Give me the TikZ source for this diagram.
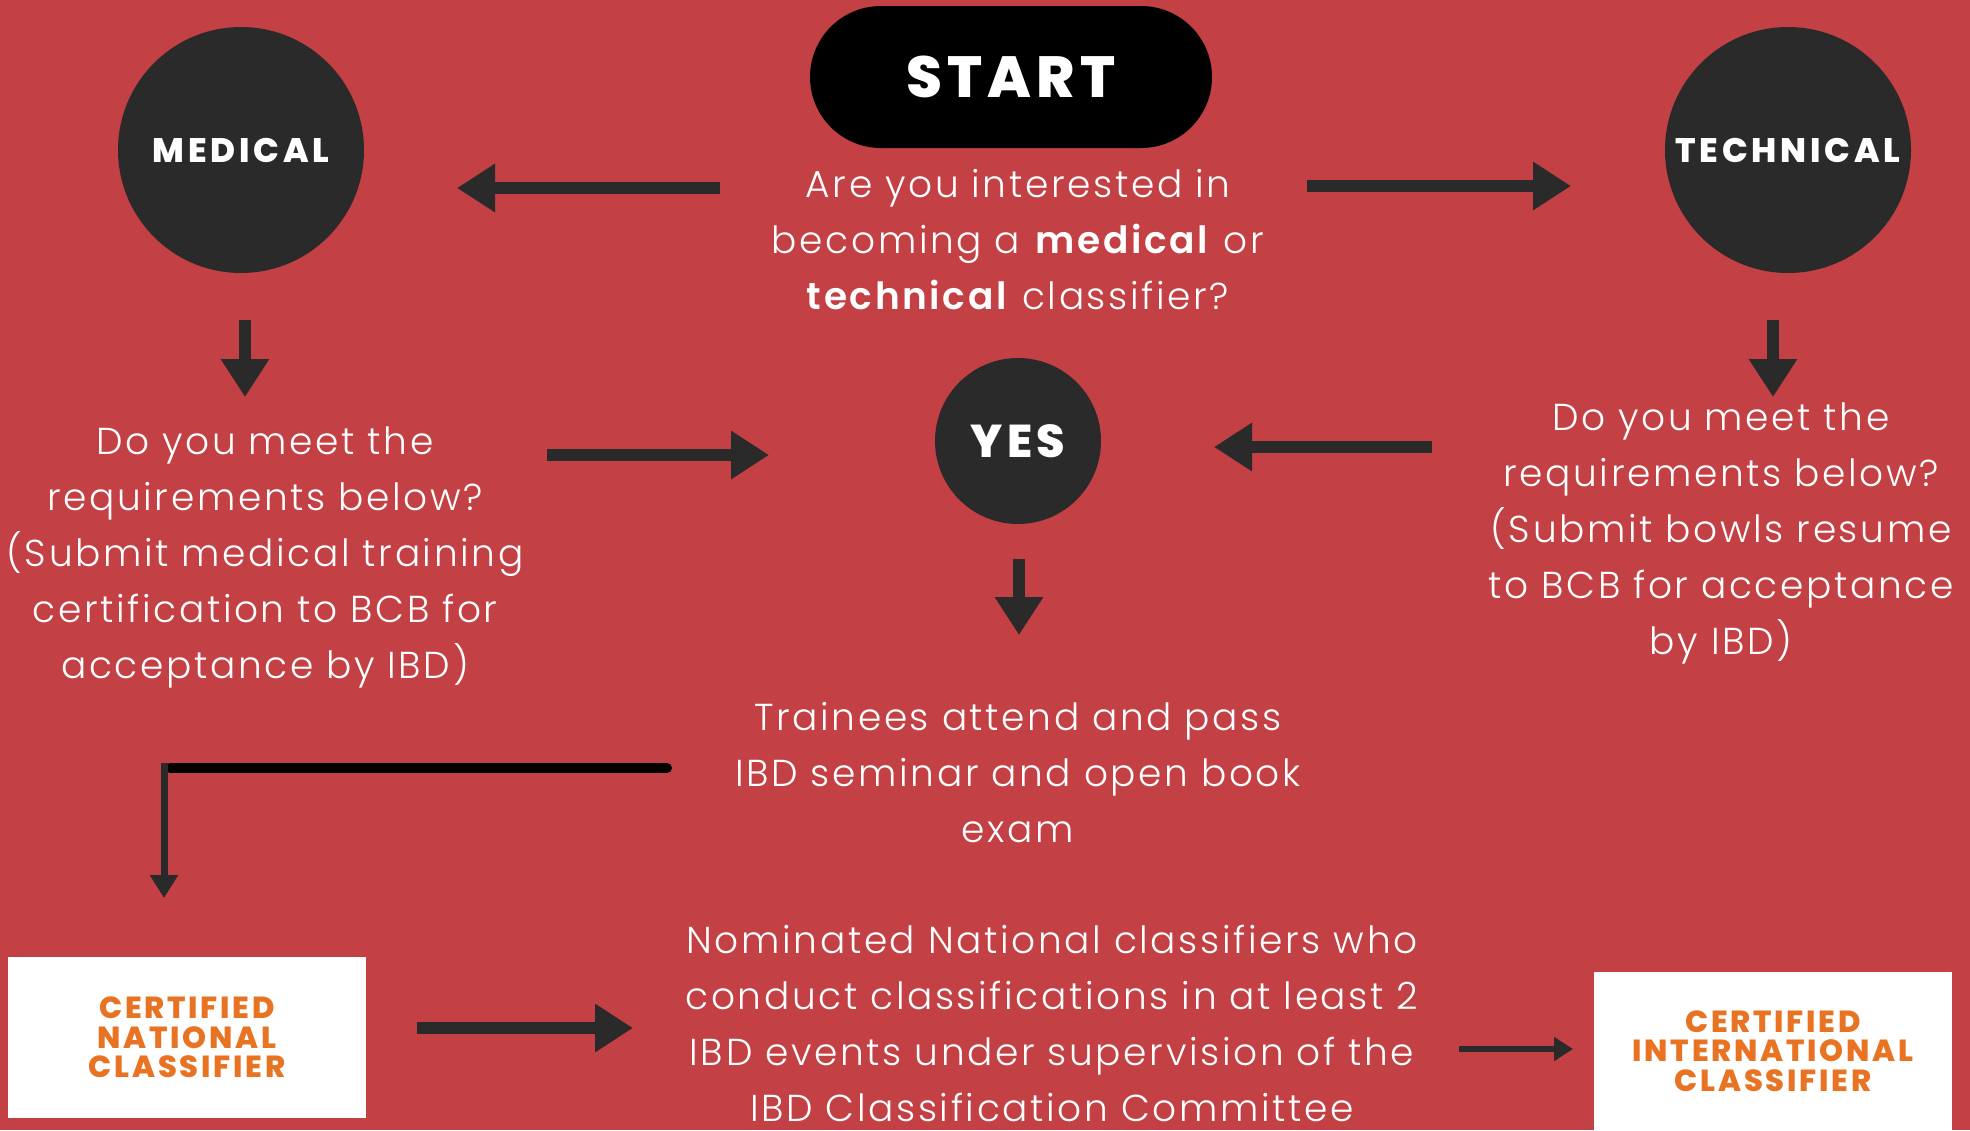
\documentclass[tikz,border=0pt]{standalone}
\usepackage{fontspec}
\setmainfont{Poppins Light}[BoldFont={Poppins SemiBold}, LetterSpace=7]
\newfontfamily\heavyfont{Poppins ExtraBold}
\usetikzlibrary{arrows.meta}
\definecolor{bgred}{HTML}{C34044}
\definecolor{dark}{HTML}{2A2A2A}
\definecolor{certorange}{HTML}{E87423}
\tikzset{
  every node/.style={inner sep=0pt, outer sep=0pt},
  body/.style={text=white, align=center, font=\fontsize{37.5}{56}\selectfont},
  circ/.style={circle, fill=dark, text=white},
  bigarrow/.style={draw=dark, line width=12pt, -{Triangle[width=46pt,length=38pt]}},
  smallarrow/.style={draw=dark, line width=6pt, -{Triangle[width=23pt,length=19pt]}},
  certbox/.style={fill=white, text=certorange, align=center,
    font=\heavyfont\addfontfeature{LetterSpace=9}\fontsize{30.5}{29.5}\selectfont},
}
\begin{document}
\begin{tikzpicture}[x=1pt,y=-1pt]
\useasboundingbox (0,0) rectangle (1970,1130);
\fill[bgred] (0,0) rectangle (1970,1130);

% start pill
\node[fill=black, rounded corners=71pt, minimum width=402pt, minimum height=142pt,
  text=white, font=\heavyfont\addfontfeature{LetterSpace=9}\fontsize{58}{58}\selectfont]
  (start) at (1011,77) {START};

% question
\node[body] (question) at (1018,240)
  {Are you interested in\\becoming a \textbf{medical} or\\\textbf{technical} classifier?};

% circles
\node[circ, minimum size=246pt, font=\heavyfont\addfontfeature{LetterSpace=11}\fontsize{34}{34}\selectfont]
  (medical) at (241,150) {\raisebox{-4pt}{MEDICAL}};
\node[circ, minimum size=246pt, font=\heavyfont\addfontfeature{LetterSpace=11}\fontsize{34}{34}\selectfont]
  (technical) at (1788,150) {\raisebox{-4pt}{TECHNICAL}};
\node[circ, minimum size=166pt, font=\heavyfont\addfontfeature{LetterSpace=9}\fontsize{46}{46}\selectfont]
  (yes) at (1018,441) {\raisebox{-2pt}{YES}};

% requirement texts
\node[body] (medtext) at (265,557)
  {Do you meet the\\requirements below?\\(Submit medical training\\certification to BCB for\\acceptance by IBD)};
\node[body] (techtext) at (1721,533)
  {Do you meet the\\requirements below?\\(Submit bowls resume\\to BCB for acceptance\\by IBD)};

\node[body] (trainees) at (1018,773)
  {Trainees attend and pass\\IBD seminar and open book\\exam};

\node[body] (nominated) at (1052,1023)
  {Nominated National classifiers who\\conduct classifications in at least 2\\IBD events under supervision of the\\IBD Classification Committee};

% certificate boxes
\node[certbox, minimum width=358pt, minimum height=161pt] (national) at (187,1037.5)
  {CERTIFIED\\NATIONAL\\CLASSIFIER};
\node[certbox, minimum width=358pt, minimum height=158pt] (international) at (1773,1051)
  {CERTIFIED\\INTERNATIONAL\\CLASSIFIER};

% arrow coordinates
\coordinate (qL) at (720,188);   \coordinate (medR) at (457,188);
\coordinate (qR) at (1307,186);  \coordinate (techL) at (1571,186);
\coordinate (medB) at (245,320); \coordinate (medtextT) at (245,397);
\coordinate (techB) at (1773,320); \coordinate (techtextT) at (1773,397);
\coordinate (medtextR) at (547,455); \coordinate (yesL) at (769,455);
\coordinate (techtextL) at (1432,447); \coordinate (yesR) at (1214,447);
\coordinate (yesB) at (1019,559); \coordinate (traineesT) at (1019,635);
\coordinate (traineesL) at (667,768); \coordinate (elbow) at (170,768);
\coordinate (elbowtop) at (164,763); \coordinate (nationalT) at (164,898);
\coordinate (nationalR) at (417,1028); \coordinate (nominatedL) at (633,1028);
\coordinate (nominatedR) at (1459,1049); \coordinate (internationalL) at (1573,1049);

\draw[bigarrow] (qL) -- (medR);
\draw[bigarrow] (qR) -- (techL);
\draw[bigarrow] (medB) -- (medtextT);
\draw[bigarrow] (techB) -- (techtextT);
\draw[bigarrow] (medtextR) -- (yesL);
\draw[bigarrow] (techtextL) -- (yesR);
\draw[bigarrow] (yesB) -- (traineesT);
\draw[black, line width=10pt, line cap=round] (traineesL) -- (elbow);
\draw[draw=dark, line width=7pt, -{Triangle[width=27pt,length=23pt]}] (elbowtop) -- (nationalT);
\draw[bigarrow] (nationalR) -- (nominatedL);
\draw[smallarrow] (nominatedR) -- (internationalL);
\end{tikzpicture}
\end{document}
